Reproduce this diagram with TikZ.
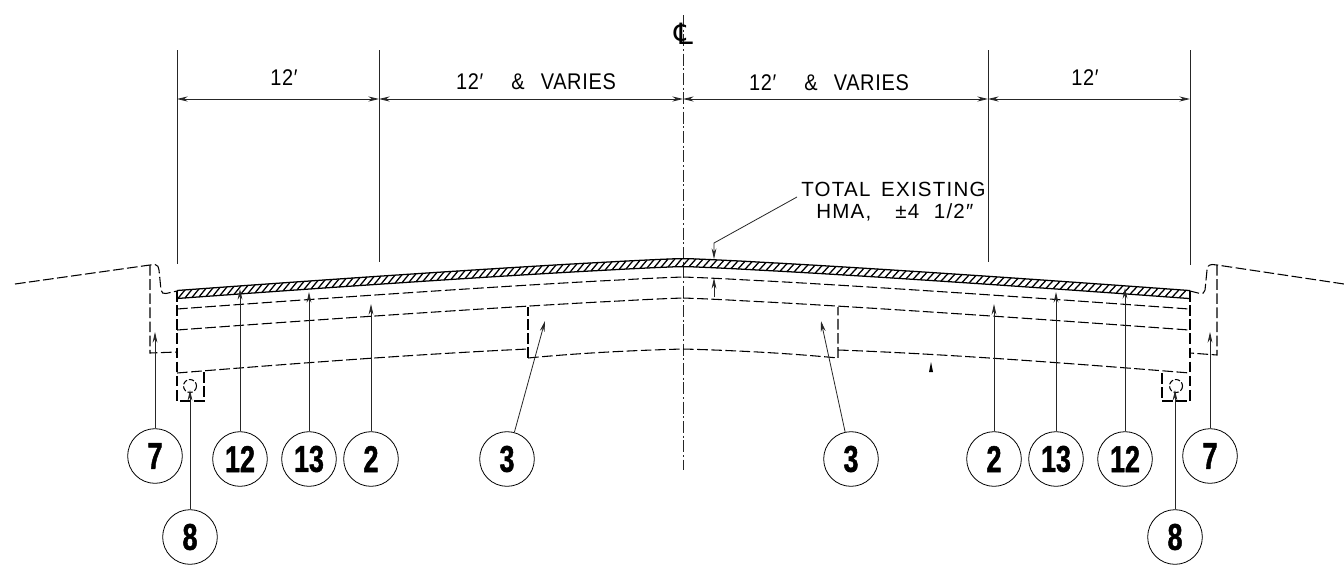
\documentclass[tikz,border=0pt]{standalone}
\usepackage{fontspec}
\setmainfont{Liberation Sans}
\newfontfamily\numfont[FakeStretch=0.72,FakeBold=1.2]{Liberation Sans Bold}
\newfontfamily\dimfont[FakeStretch=0.88,LetterSpace=3]{Liberation Sans}
\newfontfamily\notefont[LetterSpace=6]{Liberation Sans}
\newfontfamily\clfont{DejaVu Sans}
\usetikzlibrary{arrows.meta}
\tikzset{
  thin line/.style={line width=0.6pt,black!85},
  dashline/.style={line width=0.8pt,black,dash pattern=on 8pt off 2.6pt},
  hatchline/.style={line width=0.95pt,black},
  tip/.style={-{Stealth[length=8pt,width=3.6pt]},thin line},
  dim/.style={{Stealth[length=8pt,width=3.8pt]}-{Stealth[length=8pt,width=3.8pt]},thin line},
  callout/.style={circle,draw,line width=0.6pt,minimum size=41pt,inner sep=0pt,font=\numfont\fontsize{28}{28}\selectfont},
  dimtext/.style={font=\dimfont\fontsize{17}{18}\selectfont,inner sep=0pt},
  notetext/.style={font=\notefont\fontsize{15.4}{17}\selectfont,inner sep=0pt,anchor=west}
}
\begin{document}
\begin{tikzpicture}[x=0.75pt,y=-0.75pt,
  declare function={road(\q)=258+32*pow(abs(\q-683)/506+0.0001,1.16);}]
\useasboundingbox (0,0) rectangle (1344,564);
\fill[white] (0,0) rectangle (1344,564);
% centre line and extension lines
\draw[thin line,dash pattern=on 9pt off 2pt on 1.5pt off 2pt] (683,15) -- (683,470);
\node[font=\clfont\fontsize{22}{22}\selectfont,inner sep=0pt] at (684,34) {℄};
\coordinate (d0) at (177,99); \coordinate (d1) at (379,99); \coordinate (d2) at (683,99);
\coordinate (d3) at (988,99); \coordinate (d4) at (1190,99);
\draw[thin line] (177,50) -- (177,264);
\draw[thin line] (379,50) -- (379,262);
\draw[thin line] (988,50) -- (988,262);
\draw[thin line] (1190,50) -- (1190,265);
\draw[dim] (d0) -- (d1);
\draw[dim] (d1) -- (d2);
\draw[dim] (d2) -- (d3);
\draw[dim] (d3) -- (d4);
\node[dimtext] (t1) at (284,78) {12′};
\node[dimtext] (t2) at (536,82) {12′\hspace{21pt}\&\hspace{12pt}VARIES};
\node[dimtext] (t3) at (829,83) {12′\hspace{21pt}\&\hspace{12pt}VARIES};
\node[dimtext] (t4) at (1085,78) {12′};
\node[notetext] (t5) at (801,189) {TOTAL\hspace{8pt}EXISTING};
\node[notetext] (t6) at (816,212) {HMA,\hspace{18pt}±4\hspace{11pt}1/2″};
% hatched wearing course
\draw[hatchline] plot[domain=177:1190,samples=60] ({\x},{road(\x)+0.5});
\draw[hatchline] plot[domain=177:1190,samples=60] ({\x},{road(\x)+8.5});
\foreach \h in {178,185,...,1183}{
  \draw[hatchline] ({\h},{road(\h)+8.5}) -- ({\h+7},{road(\h+7)+0.5});
}
% layer lines
\draw[dashline] plot[domain=177:683,samples=25] ({\x},{road(\x)+19});
\draw[dashline] plot[domain=683:1190,samples=25] ({\x},{road(\x)+19});
\draw[dashline] plot[domain=177:683,samples=25] ({\x},{road(\x)+40});
\draw[dashline] plot[domain=683:1190,samples=25] ({\x},{road(\x)+40});
\draw[dashline] (177,373) .. controls (300,363) and (420,354) .. (528,349);
\draw[dashline] (528,358) -- (528,307);
\draw[dashline] (528,358) .. controls (580,353) and (630,350.5) .. (683,349);
\draw[dashline] (683,349) .. controls (736,350.5) and (786,353) .. (838,358) -- (838,307);
\draw[dashline] (838,350) .. controls (946,354) and (1066,363) .. (1190,373);
% kerb and edge, left
\draw[dashline] (15,284) -- (150,265) -- (155,264.5) .. controls (158,265) and (158.5,267) .. (159,270) -- (161,290) .. controls (162,293) and (163,294) .. (166,293.5) -- (177,291);
\draw[dashline] (150,265) -- (150,353) -- (177,352) ;
\draw[dashline] (177,291) -- (177,401) -- (204,401) -- (204,371);
\draw[line width=0.8pt,dash pattern=on 4pt off 1.5pt] (190,386) circle (6.5);
% kerb and edge, right
\draw[dashline] (1344,284) -- (1217,265) -- (1212,264.5) .. controls (1208,265) and (1207.5,267) .. (1207,270) -- (1205,290) .. controls (1204,293) and (1203,294) .. (1200,293.5) -- (1190,291);
\draw[dashline] (1217,265) -- (1217,355) -- (1190,353);
\draw[dashline] (1190,291) -- (1190,401) -- (1162,401) -- (1162,371);
\draw[line width=0.8pt,dash pattern=on 4pt off 1.5pt] (1176,386) circle (6.5);
% callouts
\node[callout] (a7) at (155,456) {7};
\node[callout] (a12) at (240,459) {12};
\node[callout] (a13) at (309,459) {13};
\node[callout] (a2) at (371,459) {2};
\node[callout] (a3) at (507,459) {3};
\node[callout] (a8) at (190,537) {8};
\node[callout] (b3) at (851,459) {3};
\node[callout] (b2) at (994,459) {2};
\node[callout] (b13) at (1056,459) {13};
\node[callout] (b12) at (1125,459) {12};
\node[callout] (b7) at (1210,456) {7};
\node[callout] (b8) at (1175,537) {8};
\coordinate (p7) at (155,332); \coordinate (p12) at (240,289); \coordinate (p13) at (309,292);
\coordinate (p2) at (371,304); \coordinate (p3) at (545,321); \coordinate (p8) at (190,390);
\coordinate (q3) at (821,321); \coordinate (q2) at (994,304); \coordinate (q13) at (1056,292);
\coordinate (q12) at (1125,288); \coordinate (q7) at (1210,332); \coordinate (q8) at (1175,390);
\draw[tip] (a7) -- (p7);
\draw[tip] (a12) -- (p12);
\draw[tip] (a13) -- (p13);
\draw[tip] (a2) -- (p2);
\draw[tip] (a3) -- (p3);
\draw[tip] (a8) -- (p8);
\draw[tip] (b3) -- (q3);
\draw[tip] (b2) -- (q2);
\draw[tip] (b13) -- (q13);
\draw[tip] (b12) -- (q12);
\draw[tip] (b7) -- (q7);
\draw[tip] (b8) -- (q8);
% thickness note
\coordinate (n0) at (797,197); \coordinate (n1) at (714,243); \coordinate (n2) at (714,259);
\coordinate (n3) at (714,297); \coordinate (n4) at (714,278);
\draw[tip] (n0) -- (n1) -- (n2);
\draw[tip] (n3) -- (n4);
\fill (931,362) -- (933,372) -- (929,372) -- cycle;
\end{tikzpicture}
\end{document}
